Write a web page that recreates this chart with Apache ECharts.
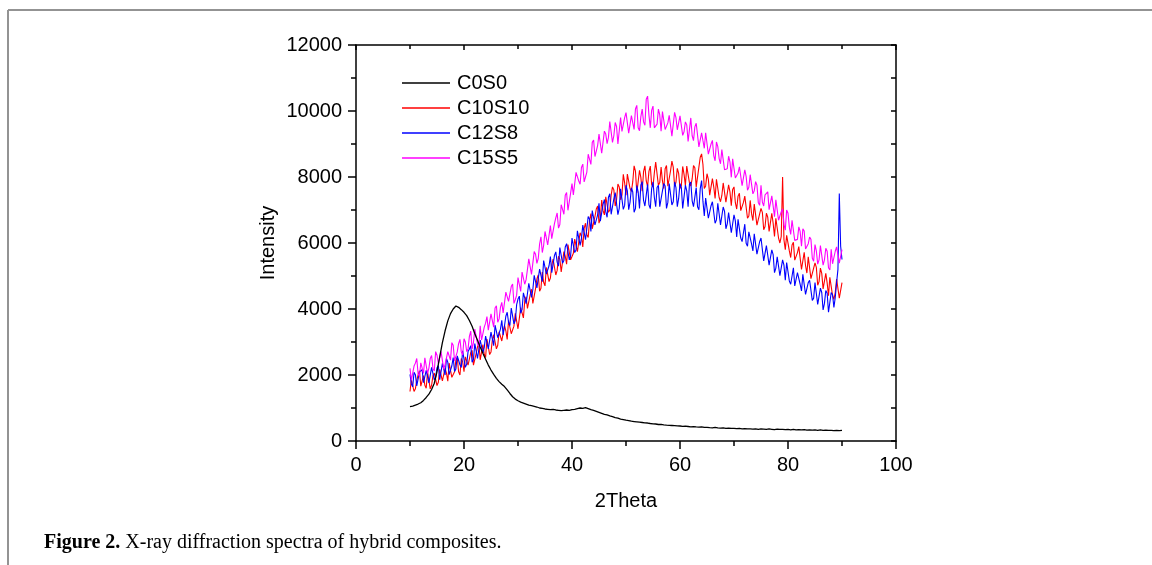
<!DOCTYPE html>
<html>
<head>
<meta charset="utf-8">
<script src="https://cdn.jsdelivr.net/npm/echarts@6/dist/echarts.min.js"></script>
<style>
html,body{margin:0;padding:0;background:#fff;}
#chart{width:1152px;height:565px;}
</style>
</head>
<body>
<div id="chart"></div>
<script>
const seriesNames = ['C0S0', 'C10S10', 'C12S8', 'C15S5'];
const xTicks = [0, 20, 40, 60, 80, 100];
const yTicks = [0, 2000, 4000, 6000, 8000, 10000, 12000];

// 2Theta sampling of the black curve (0.5 deg)
const theta = [10,10.5,11,11.5,12,12.5,13,13.5,14,14.5,15,15.5,16,16.5,17,17.5,18,18.5,19,19.5,
20,20.5,21,21.5,22,22.5,23,23.5,24,24.5,25,25.5,26,26.5,27,27.5,28,28.5,29,29.5,
30,30.5,31,31.5,32,32.5,33,33.5,34,34.5,35,35.5,36,36.5,37,37.5,38,38.5,39,39.5,
40,40.5,41,41.5,42,42.5,43,43.5,44,44.5,45,45.5,46,46.5,47,47.5,48,48.5,49,49.5,
50,50.5,51,51.5,52,52.5,53,53.5,54,54.5,55,55.5,56,56.5,57,57.5,58,58.5,59,59.5,
60,60.5,61,61.5,62,62.5,63,63.5,64,64.5,65,65.5,66,66.5,67,67.5,68,68.5,69,69.5,
70,70.5,71,71.5,72,72.5,73,73.5,74,74.5,75,75.5,76,76.5,77,77.5,78,78.5,79,79.5,
80,80.5,81,81.5,82,82.5,83,83.5,84,84.5,85,85.5,86,86.5,87,87.5,88,88.5,89,89.5,90];

// 2Theta sampling of the noisy curves (0.25 deg)
const thetaFine = [10,10.25,10.5,10.75,11,11.25,11.5,11.75,12,12.25,12.5,12.75,13,13.25,13.5,13.75,14,14.25,14.5,14.75,
15,15.25,15.5,15.75,16,16.25,16.5,16.75,17,17.25,17.5,17.75,18,18.25,18.5,18.75,19,19.25,19.5,19.75,
20,20.25,20.5,20.75,21,21.25,21.5,21.75,22,22.25,22.5,22.75,23,23.25,23.5,23.75,24,24.25,24.5,24.75,
25,25.25,25.5,25.75,26,26.25,26.5,26.75,27,27.25,27.5,27.75,28,28.25,28.5,28.75,29,29.25,29.5,29.75,
30,30.25,30.5,30.75,31,31.25,31.5,31.75,32,32.25,32.5,32.75,33,33.25,33.5,33.75,34,34.25,34.5,34.75,
35,35.25,35.5,35.75,36,36.25,36.5,36.75,37,37.25,37.5,37.75,38,38.25,38.5,38.75,39,39.25,39.5,39.75,
40,40.25,40.5,40.75,41,41.25,41.5,41.75,42,42.25,42.5,42.75,43,43.25,43.5,43.75,44,44.25,44.5,44.75,
45,45.25,45.5,45.75,46,46.25,46.5,46.75,47,47.25,47.5,47.75,48,48.25,48.5,48.75,49,49.25,49.5,49.75,
50,50.25,50.5,50.75,51,51.25,51.5,51.75,52,52.25,52.5,52.75,53,53.25,53.5,53.75,54,54.25,54.5,54.75,
55,55.25,55.5,55.75,56,56.25,56.5,56.75,57,57.25,57.5,57.75,58,58.25,58.5,58.75,59,59.25,59.5,59.75,
60,60.25,60.5,60.75,61,61.25,61.5,61.75,62,62.25,62.5,62.75,63,63.25,63.5,63.75,64,64.25,64.5,64.75,
65,65.25,65.5,65.75,66,66.25,66.5,66.75,67,67.25,67.5,67.75,68,68.25,68.5,68.75,69,69.25,69.5,69.75,
70,70.25,70.5,70.75,71,71.25,71.5,71.75,72,72.25,72.5,72.75,73,73.25,73.5,73.75,74,74.25,74.5,74.75,
75,75.25,75.5,75.75,76,76.25,76.5,76.75,77,77.25,77.5,77.75,78,78.25,78.5,78.75,79,79.25,79.5,79.75,
80,80.25,80.5,80.75,81,81.25,81.5,81.75,82,82.25,82.5,82.75,83,83.25,83.5,83.75,84,84.25,84.5,84.75,
85,85.25,85.5,85.75,86,86.25,86.5,86.75,87,87.25,87.5,87.75,88,88.25,88.5,88.75,89,89.25,89.5,89.75,90];

const c0s0 = [1040,1060,1090,1120,1160,1230,1320,1420,1560,1750,
2100,2550,2980,3340,3640,3860,4000,4090,4050,3980,
3900,3800,3650,3480,3250,3050,2850,2660,2480,2300,
2150,2020,1900,1800,1720,1650,1550,1440,1340,1270,
1220,1180,1150,1120,1090,1070,1050,1030,1000,990,
970,960,950,960,940,930,920,930,940,930,
950,960,980,1000,990,1010,980,950,930,900,
870,840,810,790,760,740,710,690,660,650,
630,620,600,590,580,570,560,550,545,530,
520,515,500,505,490,480,475,470,465,460,
455,445,450,440,430,435,425,420,425,410,
415,405,400,410,395,390,400,385,390,380,
385,375,380,370,375,365,370,360,370,355,
365,360,350,365,355,345,360,350,355,345,
350,340,355,340,345,335,345,330,340,330,
335,325,335,320,330,320,325,315,325,315,320];

const c10s10 = [1500,1860,1920,1500,1580,1840,2000,2130,1660,1620,
1980,1690,1600,2090,2070,1580,1690,1980,2060,2070,
1680,1780,2170,2150,1820,1770,2210,2060,1810,2360,
2300,1930,1950,2100,2450,2530,2100,2000,2500,2400,
2100,2550,2600,2300,2300,2680,2750,2300,2350,2650,
2850,2960,2460,2490,2920,2630,2530,3090,3140,2620,
2700,3060,3220,3210,2790,2900,3310,3320,3030,3020,
3500,3340,3080,3650,3610,3250,3290,3480,3870,3890,
3400,3420,4040,3990,3730,4250,4370,4020,3960,4430,
4600,4170,4230,4620,4910,5030,4540,4630,5120,4810,
4700,5260,5320,4830,4940,5330,5510,5470,5030,5170,
5600,5510,5120,5180,5740,5600,5360,5950,5930,5490,
5450,5690,6120,6180,5740,5730,6310,6200,5880,6440,
6600,6240,6170,6680,6890,6430,6460,6800,7030,7120,
6600,6750,7300,6980,6850,7400,7450,6930,7000,7450,
7700,7610,7120,7310,7790,7700,7310,7450,8080,7820,
7450,8090,8130,7650,7560,7850,8340,8180,7520,7560,
8200,7990,7570,8160,8340,7880,7710,8170,8330,7770,
7700,8130,8450,8400,7750,7830,8300,7880,7650,8250,
8350,7720,7690,8190,8480,8300,7720,7840,8260,8110,
7650,7740,8320,8080,7740,8330,8310,7820,7730,7940,
8350,8280,7700,7700,8300,8600,8700,8380,7650,7730,
8100,7930,7450,7450,7950,7700,7350,7930,7900,7380,
7250,7440,7820,7780,7240,7200,7760,7550,7130,7620,
7700,7220,7030,7420,7510,6980,6940,7230,7420,7390,
6750,6820,7290,6890,6680,7180,7170,6540,6510,6880,
7050,6930,6400,6500,6900,6780,6350,6380,6900,6600,
6200,6750,6690,6150,6000,6200,8000,6100,5800,6230,
6250,5760,5560,5940,6020,5480,5430,5710,5890,5850,
5200,5260,5720,5310,5090,5580,5560,4920,4880,5240,
5400,5260,4720,4830,5240,5080,4610,4600,5080,4790,
4400,4960,4920,4410,4290,4500,4910,4870,4330,4270,
4800];

const c12s8 = [2020,1730,1640,2080,2010,1670,1730,2090,2150,2160,
1770,1760,2140,1950,1760,1750,2230,2240,1850,1940,
2220,2290,1860,1810,2350,2330,2000,2500,2390,2010,
2030,2280,2530,2110,2180,2580,2580,2310,2230,2730,
2730,2230,2330,2710,2790,2890,2390,2470,2950,2730,
2500,2530,3060,3070,2670,2830,3180,3240,2790,2750,
3300,3250,2890,3510,3530,3130,3120,3390,3660,3210,
3250,3780,3900,3600,3500,4030,4050,3550,3650,4130,
4300,4390,3870,3980,4490,4330,4160,4220,4780,4770,
4350,4590,5020,5080,4640,4630,5210,5170,4830,5470,
5500,5060,5020,5310,5590,5100,5110,5620,5730,5420,
5300,5860,5910,5390,5470,5880,5980,6040,5490,5620,
6150,5930,5710,5790,6370,6350,5930,6140,6540,6570,
6100,6150,6800,6730,6350,6980,7000,6550,6500,6850,
7200,6660,6610,7170,7320,6950,6780,7390,7490,6870,
6850,7340,7530,7500,6860,7050,7640,7330,7020,7140,
7750,7580,7010,7240,7670,7550,6930,7040,7740,7550,
7050,7760,7860,7290,7120,7450,7780,7160,7040,7650,
7850,7380,7100,7680,7750,7100,7050,7580,7800,7730,
7050,7230,7800,7480,7150,7250,7850,7680,7100,7350,
7800,7680,7050,7100,7750,7580,7100,7780,7850,7280,
7100,7390,7680,7100,7010,7650,7890,7260,6820,7360,
7400,6750,6700,7130,7250,7230,6600,6700,7200,6880,
6550,6570,7090,6960,6430,6580,6920,6870,6310,6280,
6850,6670,6180,6720,6660,6150,6040,6310,6570,5990,
5900,6340,6380,5970,5760,6280,6290,5660,5620,6040,
6150,6110,5460,5490,5920,5630,5330,5310,5790,5650,
5100,5240,5580,5550,5010,4950,5490,5330,4870,5410,
5350,4850,4750,5000,5250,4700,4650,5100,5150,4750,
4550,5050,5040,4440,4430,4800,4870,4870,4260,4330,
4800,4470,4140,4140,4630,4500,3970,4170,4560,4480,
3900,3900,4500,4430,4050,4350,4800,5200,7500,5900,
5500];

const c15s5 = [2200,1840,1880,2270,2360,2500,2040,1960,2370,2210,
2050,2520,2480,2050,2210,2500,2590,2200,2120,2710,
2600,2340,2290,2710,2730,2180,2320,2320,2710,2730,
2450,2980,2900,2430,2450,2700,2950,3080,2700,2600,
3100,3000,2710,2790,3170,3330,2780,2990,3390,3370,
2950,2870,3490,3060,3030,3450,3570,3770,3360,3360,
3850,3650,3450,4030,4100,3600,3700,4050,4200,3880,
3850,4510,4470,4230,4190,4680,4760,4170,4280,4420,
4950,4890,4530,5120,5110,4750,4890,5200,5520,5540,
5050,5100,5740,5660,5380,5530,5970,6190,5710,5930,
6350,6350,5940,5890,6530,6130,6120,6590,6760,6910,
6450,6560,7160,7020,6870,7450,7530,6990,7040,7520,
7800,7460,7410,8140,8170,7880,7780,8290,8390,7850,
8000,8150,8690,8690,8380,9050,9120,8620,8610,8960,
9300,9260,8720,8760,9390,9300,9010,9200,9680,9720,
9050,9250,9650,9530,9000,9050,9800,9380,9350,9800,
9950,9940,9330,9350,9860,9650,9440,10060,10170,9490,
9400,9830,10060,9670,9570,10360,10450,9870,9490,10020,
10150,9490,9530,9600,10060,9880,9390,9980,9970,9440,
9400,9640,9870,9810,9240,9300,9960,9800,9430,9490,
9850,9910,9260,9370,9670,9580,9080,9090,9790,9250,
9100,9520,9630,9570,8910,8880,9340,9100,8870,9340,
9300,8690,8680,9000,9110,8650,8490,9060,8920,8560,
8400,8830,8860,8220,8270,8250,8630,8460,7990,8550,
8500,7970,7930,8120,8310,8280,7740,7680,8220,8010,
7600,7690,8070,8130,7490,7580,7860,7750,7230,7140,
7750,7240,7120,7460,7490,7550,7010,6970,7430,7120,
6800,7310,7310,6690,6670,6950,7030,6560,6390,7000,
6900,6480,6260,6690,6720,6080,6130,6110,6490,6350,
5900,6430,6360,5820,5770,5980,6180,6110,5540,5450,
5950,5760,5360,5490,5920,5980,5330,5490,5840,5750,
5250,5180,5810,5370,5320,5750,5880,5940,5390,5350,
5800];

const seriesValues = [c0s0, c10s10, c12s8, c15s5];
const seriesX = [theta, thetaFine, thetaFine, thetaFine];
const seriesColors = ['#000000', '#ff0000', '#0000ff', '#ff00ff'];

const FONT = 'Liberation Sans, Arial, sans-serif';
const chart = echarts.init(document.getElementById('chart'), null, {renderer: 'canvas'});

const axisLineStyle = {color: '#000', width: 1.5};

const series = seriesNames.map((name, k) => ({
  name: name,
  type: 'line',
  xAxisIndex: 0,
  yAxisIndex: 0,
  data: seriesX[k].map((t, i) => [t, seriesValues[k][i]]),
  showSymbol: false,
  symbol: 'none',
  sampling: null,
  lineStyle: {color: seriesColors[k], width: k === 0 ? 1.3 : 1.1},
  itemStyle: {color: seriesColors[k]},
  z: k === 0 ? 6 : 2 + k,
  animation: false
}));

chart.setOption({
  animation: false,
  backgroundColor: '#fff',
  grid: {left: 356, right: 256, top: 45, bottom: 124, containLabel: false},
  legend: {
    data: seriesNames,
    orient: 'vertical',
    left: 397,
    top: 68,
    icon: 'rect',
    itemWidth: 48,
    itemHeight: 1.5,
    itemGap: 5,
    textStyle: {fontSize: 20, fontFamily: FONT, color: '#000', lineHeight: 20, padding: [0, 0, 0, 2]}
  },
  xAxis: [{
    type: 'value',
    position: 'bottom',
    min: 0, max: 100, interval: 20,
    name: '2Theta',
    nameLocation: 'middle',
    nameGap: 50,
    nameTextStyle: {fontSize: 20, fontFamily: FONT, color: '#000'},
    axisLine: {show: true, onZero: false, lineStyle: axisLineStyle},
    axisTick: {show: true, inside: false, length: 8, lineStyle: {color: '#000', width: 1.5}},
    minorTick: {show: true, splitNumber: 2, length: 5, lineStyle: {color: '#000', width: 1.5}},
    axisLabel: {fontSize: 20, fontFamily: FONT, color: '#000', margin: 14,
      formatter: v => xTicks.includes(v) ? String(v) : ''},
    splitLine: {show: false}
  }, {
    type: 'value',
    position: 'top',
    min: 0, max: 100, interval: 20,
    axisLine: {show: true, onZero: false, lineStyle: axisLineStyle},
    axisTick: {show: true, inside: true, length: 5, lineStyle: {color: '#000', width: 1.5}},
    minorTick: {show: true, splitNumber: 2, length: 4, lineStyle: {color: '#000', width: 1.5}},
    axisLabel: {show: false},
    splitLine: {show: false}
  }],
  yAxis: [{
    type: 'value',
    position: 'left',
    min: 0, max: 12000, interval: 2000,
    name: 'Intensity',
    nameLocation: 'middle',
    nameGap: 78,
    nameTextStyle: {fontSize: 20, fontFamily: FONT, color: '#000'},
    axisLine: {show: true, onZero: false, lineStyle: axisLineStyle},
    axisTick: {show: true, inside: false, length: 8, lineStyle: {color: '#000', width: 1.5}},
    minorTick: {show: true, splitNumber: 2, length: 5, lineStyle: {color: '#000', width: 1.5}},
    axisLabel: {fontSize: 20, fontFamily: FONT, color: '#000', margin: 14,
      formatter: v => yTicks.includes(v) ? String(v) : ''},
    splitLine: {show: false}
  }, {
    type: 'value',
    position: 'right',
    min: 0, max: 12000, interval: 2000,
    axisLine: {show: true, onZero: false, lineStyle: axisLineStyle},
    axisTick: {show: true, inside: true, length: 5, lineStyle: {color: '#000', width: 1.5}},
    minorTick: {show: true, splitNumber: 2, length: 5, lineStyle: {color: '#000', width: 1.5}},
    axisLabel: {show: false},
    splitLine: {show: false}
  }],
  graphic: [
    {type: 'line', silent: true, shape: {x1: 8, y1: 10, x2: 1152, y2: 10},
      style: {stroke: '#939393', lineWidth: 2}},
    {type: 'line', silent: true, shape: {x1: 8, y1: 10, x2: 8, y2: 565},
      style: {stroke: '#939393', lineWidth: 2}},
    {type: 'text', left: 44, top: 533, silent: true,
      style: {
        text: '{b|Figure 2.} X-ray diffraction spectra of hybrid composites.',
        fill: '#000',
        font: '20px "Liberation Serif", "Times New Roman", serif',
        rich: {b: {fontWeight: 'bold', fontSize: 20, fontFamily: 'Liberation Serif', fill: '#000'}}
      }}
  ],
  series: series
});
</script>
</body>
</html>
